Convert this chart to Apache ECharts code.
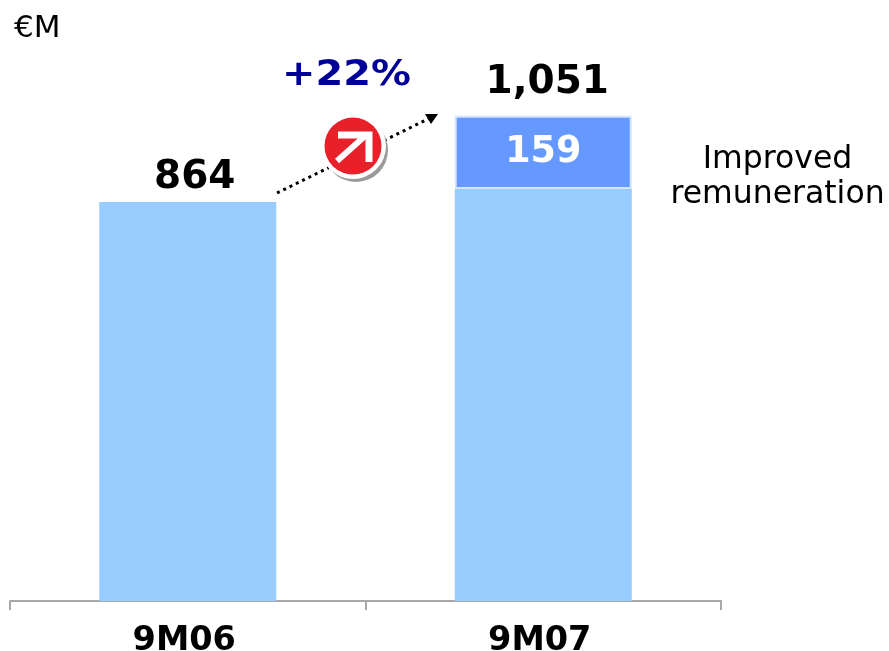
<!DOCTYPE html>
<html>
<head>
<meta charset="utf-8">
<script src="https://cdn.jsdelivr.net/npm/echarts@6/dist/echarts.min.js"></script>
<style>html,body{margin:0;padding:0;background:#fff}#c{width:889px;height:651px}</style>
</head>
<body>
<div id="c"></div>
<script>
// Remuneration-driven cost growth, in EUR millions
const periods = ['9M06', '9M07'];
const baseValues = [864, 892];
const improvedRemuneration = [null, 159];
const totals = [864, 1051];
const growthLabel = '+22%';
const unitLabel = '€M';
const segmentNote = 'Improved\nremuneration';

const FONT = '"DejaVu Sans", Verdana, sans-serif';
const chart = echarts.init(document.getElementById('c'));

chart.setOption({
  animation: false,
  backgroundColor: '#fff',
  grid: { left: 10, width: 711, top: 93, height: 508, outerBoundsMode: 'none' },
  xAxis: {
    type: 'category',
    data: periods,
    axisLine: { lineStyle: { color: '#a8a8a8', width: 2 } },
    axisTick: { show: true, length: 9, lineStyle: { color: '#a8a8a8', width: 2 } },
    axisLabel: {
      color: '#000', fontFamily: FONT, fontWeight: 'bold', fontSize: 33.5,
      margin: 23, padding: [0, 7, 0, 0]
    }
  },
  yAxis: { type: 'value', min: 0, max: 1100, show: false, splitLine: { show: false } },
  series: [
    {
      name: 'Base', type: 'bar', stack: 'cost', barWidth: 177,
      data: baseValues, itemStyle: { color: '#99ccff' }, silent: true
    },
    {
      name: 'Improved remuneration', type: 'bar', stack: 'cost', barWidth: 177,
      data: improvedRemuneration,
      itemStyle: { color: '#6699ff', borderColor: '#d3e5ff', borderWidth: 2 },
      label: {
        show: true, position: 'inside', color: '#fff', fontFamily: FONT,
        fontWeight: 'bold', fontSize: 36.5, formatter: p => p.value
      }
    },
    {
      // Invisible carrier for the total printed above each column
      name: 'Total', type: 'scatter', symbolSize: 1,
      itemStyle: { color: 'transparent', opacity: 1 },
      data: totals.map((value, i) => ({
        value,
        label: { offset: i === 0 ? [7, 1] : [4, -8] }
      })),
      label: {
        show: true, position: 'top', color: '#000', fontFamily: FONT,
        fontWeight: 'bold', fontSize: 39,
        formatter: p => p.value.toLocaleString('en-US')
      }
    }
  ],
  graphic: [
    { type: 'text', left: 14, top: 13, style: { text: unitLabel, font: '31px ' + FONT, fill: '#000' } },
    {
      type: 'text', x: 346.5, y: 76, scaleX: 1.14,
      style: {
        text: growthLabel, font: 'bold 35px ' + FONT, fill: '#000099',
        align: 'center', verticalAlign: 'middle'
      }
    },
    {
      type: 'text', x: 777.5, y: 177,
      style: {
        text: segmentNote, font: '31.5px ' + FONT, fill: '#000',
        align: 'center', verticalAlign: 'middle', lineHeight: 35
      }
    },
    // Dotted growth arrow between the two columns
    {
      type: 'line', z: 5,
      shape: { x1: 277, y1: 193, x2: 430, y2: 118 },
      style: { stroke: '#000', lineWidth: 3, lineDash: [3, 4] }
    },
    {
      type: 'polygon', z: 5,
      shape: { points: [[425, 114], [438, 114], [431, 124]] },
      style: { fill: '#000' }
    },
    // Round red badge with a white diagonal arrow
    { type: 'circle', z: 6, shape: { cx: 356, cy: 150, r: 32 }, style: { fill: '#9a9a9a' } },
    { type: 'circle', z: 7, shape: { cx: 353, cy: 146, r: 33 }, style: { fill: '#fff' } },
    { type: 'circle', z: 8, shape: { cx: 353, cy: 146, r: 28.5 }, style: { fill: '#e8202a' } },
    {
      type: 'line', z: 9, shape: { x1: 337, y1: 161, x2: 365, y2: 136 },
      style: { stroke: '#fff', lineWidth: 6 }
    },
    {
      type: 'polyline', z: 9,
      shape: { points: [[338, 135], [369, 135], [369, 162]] },
      style: { stroke: '#fff', lineWidth: 7, fill: null, lineJoin: 'miter' }
    }
  ]
});
</script>
</body>
</html>
